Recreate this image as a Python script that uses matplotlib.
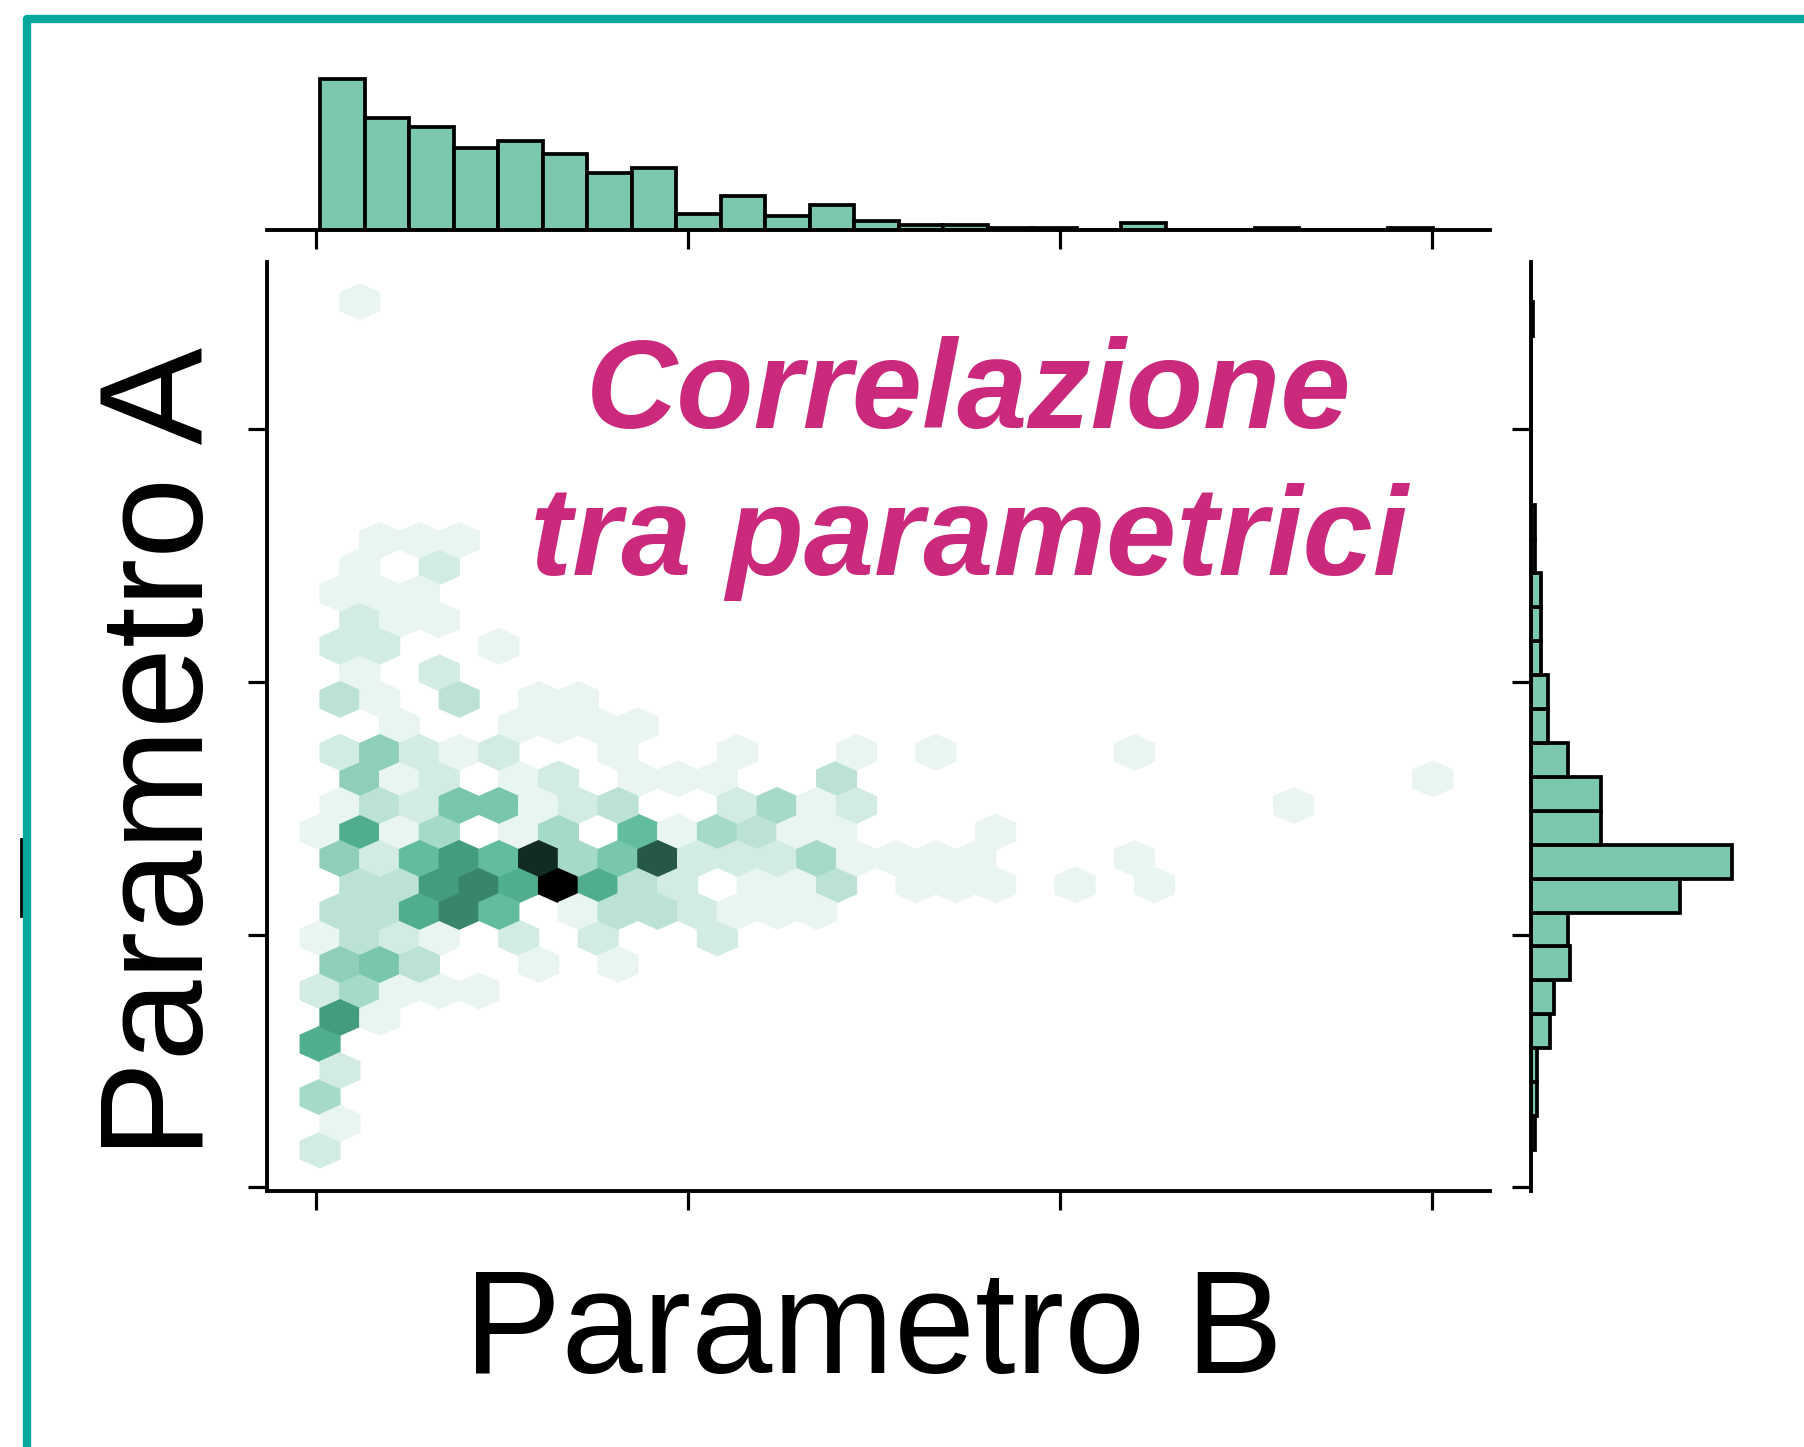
import colorsys
import numpy as np
import matplotlib
matplotlib.use("Agg")
import matplotlib.pyplot as plt
from matplotlib.colors import LinearSegmentedColormap, to_rgb
from matplotlib.lines import Line2D

# hex counts, one list per hex row (bottom -> top)
# even rows start on the first lattice column, odd rows half a column in
hex_counts = [
    [2],
    [1],
    [4],
    [2],
    [8],
    [9, 1],
    [2, 4, 1, 1, 1],
    [5, 6, 3, 0, 0, 1, 0, 1],
    [1, 3, 2, 1, 0, 2, 0, 2, 0, 0, 2],
    [3, 3, 8, 10, 7, 0, 1, 3, 3, 2, 1, 1, 1],
    [0, 3, 3, 9, 10, 8, 16, 8, 3, 2, 0, 1, 1, 3, 0, 1, 1, 1, 0, 1, 0, 1],
    [5, 2, 7, 9, 7, 14, 4, 6, 12, 2, 2, 2, 4, 1, 1, 1, 1, 0, 0, 0, 1],
    [1, 8, 1, 4, 0, 1, 4, 0, 7, 1, 4, 3, 1, 1, 0, 0, 0, 1],
    [1, 3, 2, 6, 6, 1, 2, 3, 0, 0, 2, 4, 1, 2, 0, 0, 0, 0, 0, 0, 0, 0, 0, 0, 1],
    [0, 5, 1, 2, 0, 1, 2, 0, 1, 1, 1, 0, 0, 3, 0, 0, 0, 0, 0, 0, 0, 0, 0, 0, 0, 0, 0, 0, 1],
    [2, 5, 2, 1, 2, 0, 0, 1, 0, 0, 1, 0, 0, 1, 0, 1, 0, 0, 0, 0, 1],
    [0, 0, 1, 0, 0, 1, 1, 1, 1],
    [3, 1, 0, 3, 0, 1, 1],
    [0, 1, 0, 2],
    [2, 2, 0, 0, 1],
    [0, 2, 1, 1],
    [1, 1, 1],
    [0, 1, 0, 2],
    [0, 1, 1, 1],
    [], [], [], [], [], [], [], [],
    [0, 1],
]

# marginal histograms (25 bins each)
top_counts = [66, 49, 45, 36, 39, 33, 25, 27, 7, 15, 6, 11, 4, 2, 2, 1, 1, 0, 3, 0, 0, 1, 0, 0, 1]
right_counts = [2, 3, 3, 10, 12, 20, 19, 77, 104, 36, 36, 19, 9, 9, 5, 5, 5, 2, 2, 0, 0, 0, 0, 0, 1]

x_range = (0.0097, 3.0008)
y_range = (0.148, 3.503)
gridsize = (28, 16)
ticks = [0, 1, 2, 3]

xlabel = "Parametro B"
ylabel = "Parametro A"
title_lines = ["Correlazione", "tra parametrici"]

base_color = "#4CB391"
hist_color = "#7CC8AE"
pink = "#CB2A7C"
teal = "#07A89C"

# hex centres on the hexbin lattice
sx = (x_range[1] - x_range[0]) / gridsize[0]
sy = (y_range[1] - y_range[0]) / gridsize[1]
hx, hy, hc = [], [], []
for m, row in enumerate(hex_counts):
    for i, n in enumerate(row):
        if n:
            hx.append(x_range[0] + (i + 0.5 * (m % 2)) * sx)
            hy.append(y_range[0] + m * sy / 2)
            hc.append(n)

# white -> green -> black, like seaborn's jointplot hex cmap
h, l, s = colorsys.rgb_to_hls(*to_rgb(base_color))
cols = [colorsys.hls_to_rgb(h, li, s) for li in np.linspace(1, 0, 12)]
cmap = LinearSegmentedColormap.from_list("hexgreen", cols)

W, H = 1804, 1447
fig = plt.figure(figsize=(W / 100, H / 100), dpi=100)


def box(left, top, right, bottom):
    return [left / W, 1 - bottom / H, (right - left) / W, (bottom - top) / H]


ax = fig.add_axes(box(267, 262, 1490, 1191))
ax_top = fig.add_axes(box(267, 70, 1490, 230))
ax_right = fig.add_axes(box(1531, 262, 1760, 1191))

xlim = (-0.133, 3.155)
ylim = (-0.014, 3.66)

ax.hexbin(hx, hy, C=hc, reduce_C_function=np.sum, gridsize=gridsize,
          extent=(x_range[0], x_range[1], y_range[0], y_range[1]),
          cmap=cmap, vmin=0, vmax=max(hc))
ax.set_xlim(xlim)
ax.set_ylim(ylim)

x_edges = np.linspace(x_range[0], x_range[1], len(top_counts) + 1)
y_edges = np.linspace(y_range[0], y_range[1], len(right_counts) + 1)

ax_top.bar(x_edges[:-1], top_counts, width=np.diff(x_edges), align="edge",
           color=hist_color, edgecolor="black", linewidth=2.7)
ax_top.set_xlim(xlim)
ax_top.set_ylim(0, 69.9)

ax_right.barh(y_edges[:-1], right_counts, height=np.diff(y_edges), align="edge",
              color=hist_color, edgecolor="black", linewidth=2.7)
ax_right.set_ylim(ylim)
ax_right.set_xlim(0, 118.5)

for a in (ax, ax_top, ax_right):
    for sp in a.spines.values():
        sp.set_linewidth(2.8)
    a.spines["top"].set_visible(False)
    a.spines["right"].set_visible(False)
    a.tick_params(direction="out", length=14, width=2.3,
                  labelbottom=False, labelleft=False)

ax.set_xticks(ticks)
ax.set_yticks(ticks)
ax_top.spines["left"].set_visible(False)
ax_top.set_xticks(ticks)
ax_top.set_yticks([])
ax_right.spines["bottom"].set_visible(False)
ax_right.set_yticks(ticks)
ax_right.set_xticks([])

fig.text(874 / W, 1 - 1373 / H, xlabel, ha="center", va="baseline",
         fontsize=105, family="Liberation Sans")
fig.text(203 / W, 1 - 752 / H, ylabel, rotation=90, rotation_mode="anchor",
         ha="center", va="baseline", fontsize=105, family="Liberation Sans")

fig.text(969 / W, 1 - 428 / H, title_lines[0], ha="center", va="baseline",
         fontsize=91, fontweight="bold", fontstyle="italic",
         family="Liberation Sans", color=pink)
fig.text(969 / W, 1 - 575 / H, title_lines[1], ha="center", va="baseline",
         fontsize=91, fontweight="bold", fontstyle="italic",
         family="Liberation Sans", color=pink)

# teal frame (left and top edges only are in view) + small black mark
fig.add_artist(Line2D([26.5 / W, 26.5 / W, 1], [0, 1 - 19 / H, 1 - 19 / H],
                      transform=fig.transFigure, color=teal, lw=6,
                      solid_joinstyle="round"))
fig.add_artist(Line2D([20.5 / W, 20.5 / W], [1 - 839 / H, 1 - 916 / H],
                      transform=fig.transFigure, color="black", lw=2))

fig.savefig("out.png", dpi=100)
